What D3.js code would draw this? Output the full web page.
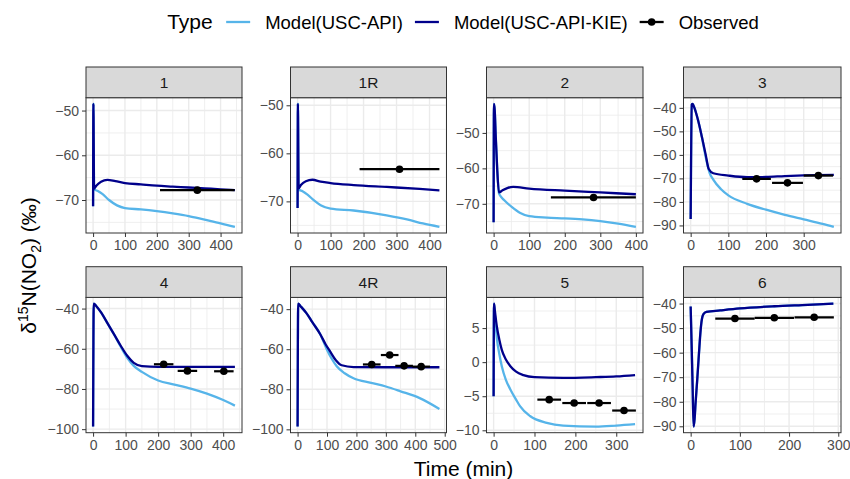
<!DOCTYPE html>
<html>
<head>
<meta charset="utf-8">
<script src="https://cdn.jsdelivr.net/npm/d3@7"></script>
<style>
  body { margin: 0; background: #fff; }
  svg { display: block; }
  text { font-family: "Liberation Sans", Arial, Helvetica, sans-serif; }
</style>
</head>
<body>
<svg id="chart" width="850" height="479"></svg>
<script>
// ---- data -------------------------------------------------------------
const facets = ["1", "1R", "2", "3", "4", "4R", "5", "6"];
const seriesNames = ["Model(USC-API)", "Model(USC-API-KIE)", "Observed"];
const seriesColors = ["#56B4E9", "#00008B", "#000000"];

// model curves: [time (min), d15N (permil)]
const api_1 = [[0,-71.4],[1,-48.5],[3,-67.6],[15,-68.0],[30,-68.7],[50,-70.0],[75,-71.2],[100,-71.8],[150,-72.1],[200,-72.5],[250,-73.0],[300,-73.6],[350,-74.4],[400,-75.2],[445,-76.0]];
const kie_1 = [[0,-71.4],[1,-48.5],[3,-67.5],[10,-66.8],[25,-65.9],[45,-65.5],[70,-65.8],[100,-66.2],[150,-66.5],[200,-66.8],[250,-67.0],[300,-67.2],[350,-67.4],[400,-67.6],[445,-67.8]];

const api_1R = [[0,-71.4],[1,-49.7],[3,-67.5],[15,-67.9],[30,-68.6],[50,-69.8],[70,-70.8],[100,-71.5],[170,-71.9],[270,-72.9],[335,-73.8],[380,-74.6],[430,-75.3]];
const kie_1R = [[0,-71.4],[1,-49.7],[3,-67.3],[10,-66.6],[25,-65.8],[45,-65.5],[70,-65.9],[100,-66.2],[170,-66.6],[270,-67.0],[370,-67.4],[430,-67.7]];

const api_2 = [[0,-75.2],[1,-41.8],[3,-43.5],[6,-51.0],[10,-60.0],[15,-67.0],[20,-67.9],[30,-69.0],[50,-70.8],[75,-72.6],[100,-73.5],[150,-73.9],[200,-74.1],[250,-74.4],[300,-74.9],[350,-75.6],[400,-76.5]];
const kie_2 = [[0,-75.2],[1,-41.8],[3,-43.5],[6,-51.0],[10,-60.0],[15,-66.8],[25,-66.2],[40,-65.5],[55,-65.2],[100,-65.7],[200,-66.3],[300,-66.8],[400,-67.3]];

const api_3 = [[0,-87.3],[3,-38.6],[5,-38.3],[10,-40.0],[20,-45.5],[30,-52.5],[40,-61.0],[50,-67.5],[60,-70.5],[80,-74.5],[100,-77.2],[150,-80.8],[200,-83.3],[250,-85.5],[300,-87.4],[350,-89.3],[380,-90.6]];
const kie_3 = [[0,-87.3],[3,-38.6],[5,-38.3],[10,-40.0],[20,-45.5],[30,-52.5],[40,-60.0],[48,-66.0],[60,-67.8],[100,-68.8],[150,-69.5],[200,-69.4],[250,-69.0],[300,-68.7],[380,-68.5]];

const api_4 = [[0,-98.7],[2,-37.5],[10,-38.8],[25,-42.0],[45,-47.5],[65,-53.0],[85,-59.0],[105,-64.5],[125,-68.5],[150,-71.5],[200,-75.8],[250,-77.8],[300,-79.8],[350,-82.3],[400,-85.5],[436,-88.3]];
const kie_4 = [[0,-98.7],[2,-37.5],[10,-38.8],[25,-42.0],[45,-47.5],[65,-53.0],[85,-58.5],[105,-63.5],[125,-67.0],[150,-68.6],[200,-69.0],[300,-69.0],[436,-69.0]];

const api_4R = [[0,-98.6],[2,-37.2],[10,-38.5],[30,-42.0],[50,-46.5],[77,-52.5],[99,-60.0],[115,-64.5],[133,-68.5],[160,-72.0],[190,-74.5],[250,-76.8],[300,-78.6],[350,-81.0],[415,-84.4],[482,-89.8]];
const kie_4R = [[0,-98.6],[2,-37.2],[10,-38.5],[30,-42.0],[50,-46.5],[77,-52.5],[95,-57.5],[110,-61.0],[130,-65.5],[150,-68.0],[190,-68.9],[300,-69.0],[482,-69.0]];

const api_5 = [[0,-5.0],[1,8.6],[3,7.0],[8,3.5],[14,1.2],[20,-0.6],[30,-2.6],[41,-4.0],[55,-5.5],[65,-6.5],[89,-7.9],[130,-8.9],[170,-9.3],[250,-9.45],[300,-9.3],[346,-9.1]];
const kie_5 = [[0,-5.0],[1,8.6],[3,7.6],[8,5.2],[14,3.3],[20,1.8],[30,0.4],[41,-0.6],[55,-1.4],[73,-1.9],[100,-2.2],[170,-2.3],[250,-2.2],[300,-2.1],[346,-1.9]];

const api_6 = [[0,-41.2],[2,-57.0],[4,-74.0],[6,-90.1],[8,-87.0],[10,-80.5],[13,-72.0],[16,-63.0],[19,-54.0],[22,-47.5],[26,-44.3],[32,-43.4],[60,-42.8],[100,-42.0],[170,-41.1],[238,-40.5],[290,-40.0]];
const kie_6 = [[0,-41.2],[2,-57.0],[4,-74.0],[6,-90.1],[8,-87.0],[10,-80.5],[13,-72.0],[16,-63.0],[19,-54.0],[22,-47.5],[26,-44.3],[32,-43.4],[60,-42.8],[100,-42.0],[170,-41.1],[238,-40.5],[290,-40.0]];

// observations: [mid time, d15N, interval start, interval end]
const obs_1  = [[327,-67.8,210,444]];
const obs_1R = [[309,-63.3,188,430]];
const obs_2  = [[281,-68.2,161,400]];
const obs_3  = [[175,-70.2,137,213],[257,-71.9,216,298],[339,-68.8,300,378]];
const obs_4  = [[217,-67.7,187,247],[290,-71.0,260,320],[402,-71.2,372,432]];
const obs_4R = [[252,-67.6,222,282],[313,-62.9,283,343],[362,-68.3,332,392],[420,-68.7,390,450]];
const obs_5  = [[136,-5.5,107,165],[197,-6.0,168,226],[258,-6.0,229,287],[319,-7.1,290,348]];
const obs_6  = [[90,-46.1,50,130],[170,-45.8,130,210],[251,-45.6,211,291]];

const apiData = [api_1, api_1R, api_2, api_3, api_4, api_4R, api_5, api_6];
const kieData = [kie_1, kie_1R, kie_2, kie_3, kie_4, kie_4R, kie_5, kie_6];
const obsData = [obs_1, obs_1R, obs_2, obs_3, obs_4, obs_4R, obs_5, obs_6];

// axis breaks per facet
const xBreaks = [
  [0,100,200,300,400], [0,100,200,300,400], [0,100,200,300,400], [0,100,200,300],
  [0,100,200,300,400], [0,100,200,300,400,500], [0,100,200,300], [0,100,200,300]
];
const yBreaks = [
  [-70,-60,-50], [-70,-60,-50], [-70,-60,-50], [-90,-80,-70,-60,-50,-40],
  [-100,-80,-60,-40], [-100,-80,-60,-40], [-10,-5,0,5], [-90,-80,-70,-60,-50,-40]
];

// ---- layout -----------------------------------------------------------
const svg = d3.select("#chart");
const colLeft = [86, 290.5, 486.5, 683.5];
const colWidth = [156, 156, 156.5, 157.5];
const stripTop = [67, 266.7];
const stripH = 30.7;
const panelH = 135.3;

const GRID = "#EBEBEB";
const BORDER = "#333333";
const TICKTXT = "#4D4D4D";

const lineGen = (x, y) => d3.line().x(d => x(d[0])).y(d => y(d[1])).curve(d3.curveMonotoneX);

// ggplot-style 5% expansion on both sides
function expanded(lo, hi) {
  const pad = (hi - lo) * 0.05;
  return [lo - pad, hi + pad];
}
function minorBreaks(br, dom) {
  const step = br[1] - br[0];
  const out = [];
  const all = [br[0] - step].concat(br, [br[br.length - 1] + step]);
  for (let k = 0; k < all.length - 1; k++) {
    const m = (all[k] + all[k + 1]) / 2;
    if (m > dom[0] && m < dom[1]) out.push(m);
  }
  return out;
}

facets.forEach((name, i) => {
  const col = i % 4, row = Math.floor(i / 4);
  const left = colLeft[col], w = colWidth[col];
  const top = stripTop[row] + stripH;
  const api = apiData[i], kie = kieData[i], obs = obsData[i];

  const xs = api.map(d => d[0]).concat(kie.map(d => d[0]), obs.map(d => d[2]), obs.map(d => d[3]));
  const ys = api.map(d => d[1]).concat(kie.map(d => d[1]), obs.map(d => d[1]));
  const xDom = expanded(d3.min(xs), d3.max(xs));
  const yDom = expanded(d3.min(ys), d3.max(ys));

  const x = d3.scaleLinear().domain(xDom).range([left, left + w]);
  const y = d3.scaleLinear().domain(yDom).range([top + panelH, top]);

  const g = svg.append("g");

  // panel background + grid
  g.append("rect").attr("x", left).attr("y", top).attr("width", w).attr("height", panelH).attr("fill", "#fff");
  const xMinor = minorBreaks(xBreaks[i], xDom), yMinor = minorBreaks(yBreaks[i], yDom);
  g.selectAll(null).data(xMinor).join("line")
    .attr("x1", d => x(d)).attr("x2", d => x(d)).attr("y1", top).attr("y2", top + panelH)
    .attr("stroke", GRID).attr("stroke-width", 0.8);
  g.selectAll(null).data(yMinor).join("line")
    .attr("y1", d => y(d)).attr("y2", d => y(d)).attr("x1", left).attr("x2", left + w)
    .attr("stroke", GRID).attr("stroke-width", 0.8);
  g.selectAll(null).data(xBreaks[i]).join("line")
    .attr("x1", d => x(d)).attr("x2", d => x(d)).attr("y1", top).attr("y2", top + panelH)
    .attr("stroke", GRID).attr("stroke-width", 1.4);
  g.selectAll(null).data(yBreaks[i]).join("line")
    .attr("y1", d => y(d)).attr("y2", d => y(d)).attr("x1", left).attr("x2", left + w)
    .attr("stroke", GRID).attr("stroke-width", 1.4);

  // model curves (USC-API beneath USC-API-KIE)
  const lg = lineGen(x, y);
  g.append("path").attr("d", lg(api)).attr("fill", "none")
    .attr("stroke", seriesColors[0]).attr("stroke-width", 2.3).attr("stroke-linejoin", "round");
  g.append("path").attr("d", lg(kie)).attr("fill", "none")
    .attr("stroke", seriesColors[1]).attr("stroke-width", 2.3).attr("stroke-linejoin", "round");

  // observations with time-interval bars
  g.selectAll(null).data(obs).join("line")
    .attr("x1", d => x(d[2])).attr("x2", d => x(d[3]))
    .attr("y1", d => y(d[1])).attr("y2", d => y(d[1]))
    .attr("stroke", seriesColors[2]).attr("stroke-width", 2.2);
  g.selectAll(null).data(obs).join("circle")
    .attr("cx", d => x(d[0])).attr("cy", d => y(d[1])).attr("r", 3.8)
    .attr("fill", seriesColors[2]);

  // panel border
  g.append("rect").attr("x", left).attr("y", top).attr("width", w).attr("height", panelH)
    .attr("fill", "none").attr("stroke", BORDER).attr("stroke-width", 1);

  // strip
  g.append("rect").attr("x", left).attr("y", stripTop[row]).attr("width", w).attr("height", stripH)
    .attr("fill", "#D9D9D9").attr("stroke", BORDER).attr("stroke-width", 1);
  g.append("text").attr("x", left + w / 2).attr("y", stripTop[row] + stripH / 2 + 5.5)
    .attr("text-anchor", "middle").attr("fill", "#1A1A1A").style("font-size", "15.5px").text(name);

  // axes
  const xAxis = d3.axisBottom(x).tickValues(xBreaks[i]).tickSize(4).tickPadding(3).tickFormat(d3.format("d"));
  const yAxis = d3.axisLeft(y).tickValues(yBreaks[i]).tickSize(4).tickPadding(3).tickFormat(d3.format("d"));
  const ax = g.append("g").attr("transform", `translate(0,${top + panelH})`).call(xAxis);
  const ay = g.append("g").attr("transform", `translate(${left},0)`).call(yAxis);
  [ax, ay].forEach(a => {
    a.select(".domain").remove();
    a.selectAll(".tick line").attr("stroke", BORDER).attr("stroke-width", 1);
    a.selectAll(".tick text").attr("fill", TICKTXT).style("font-size", "14px")
      .style("font-family", '"Liberation Sans", Arial, sans-serif');
  });
});

// ---- axis titles ----------------------------------------------------------
svg.append("text").attr("x", 463.5).attr("y", 476).attr("text-anchor", "middle")
  .style("font-size", "21px").attr("fill", "#000").text("Time (min)");

const yt = svg.append("text").attr("transform", "translate(36,265.5) rotate(-90)")
  .attr("text-anchor", "middle").style("font-size", "21px").attr("fill", "#000");
yt.append("tspan").text("δ");
yt.append("tspan").attr("dy", -8).style("font-size", "14px").text("15");
yt.append("tspan").attr("dy", 8).text("N(NO");
yt.append("tspan").attr("dy", 5).style("font-size", "14px").text("2");
yt.append("tspan").attr("dy", -5).text(") (‰)");

// ---- legend ---------------------------------------------------------------
const leg = svg.append("g");
let lx = 0;
const lt = leg.append("text").attr("x", 0).attr("y", 7).style("font-size", "21px").text("Type");
lx += lt.node().getComputedTextLength() + 13.5;
seriesNames.forEach((s, k) => {
  leg.append("line").attr("x1", lx).attr("x2", lx + 24).attr("y1", 0).attr("y2", 0)
    .attr("stroke", seriesColors[k]).attr("stroke-width", 2.3);
  if (k === 2) {
    leg.append("circle").attr("cx", lx + 12).attr("cy", 0).attr("r", 3.8).attr("fill", seriesColors[k]);
  }
  lx += 24 + 15;
  const t = leg.append("text").attr("x", lx).attr("y", 6.5).style("font-size", "18.5px").text(s);
  lx += t.node().getComputedTextLength();
  if (k < 2) lx += 12;
});
leg.attr("transform", `translate(${463 - lx / 2},22)`);
</script>
</body>
</html>
